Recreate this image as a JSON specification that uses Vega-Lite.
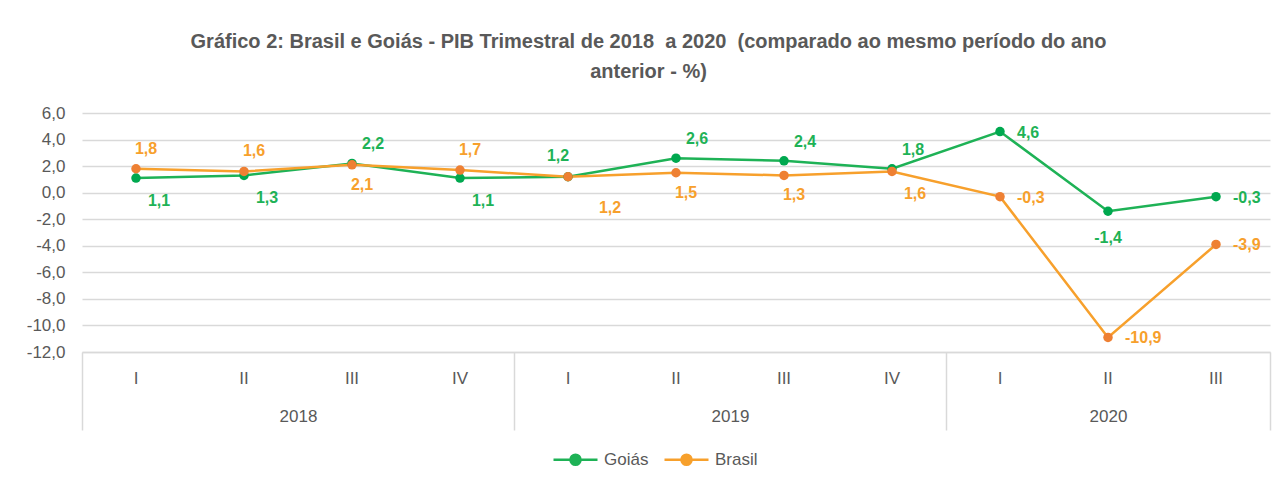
{
  "$schema": "https://vega.github.io/schema/vega-lite/v6.json",
  "autosize": {"type": "none"},
  "padding": {"left": 82, "top": 113, "right": 11, "bottom": 132},
  "width": 1188,
  "height": 239,
  "background": "white",
  "data": {"values": [
    {"per": "2018-I", "serie": "Goiás", "valor": 1.1, "pos": "br"},
    {"per": "2018-II", "serie": "Goiás", "valor": 1.3, "pos": "br"},
    {"per": "2018-III", "serie": "Goiás", "valor": 2.2, "pos": "ar"},
    {"per": "2018-IV", "serie": "Goiás", "valor": 1.1, "pos": "br"},
    {"per": "2019-I", "serie": "Goiás", "valor": 1.2, "pos": "al"},
    {"per": "2019-II", "serie": "Goiás", "valor": 2.6, "pos": "ar"},
    {"per": "2019-III", "serie": "Goiás", "valor": 2.4, "pos": "ar"},
    {"per": "2019-IV", "serie": "Goiás", "valor": 1.8, "pos": "ar"},
    {"per": "2020-I", "serie": "Goiás", "valor": 4.6, "pos": "r"},
    {"per": "2020-II", "serie": "Goiás", "valor": -1.4, "pos": "u"},
    {"per": "2020-III", "serie": "Goiás", "valor": -0.3, "pos": "r"},
    {"per": "2018-I", "serie": "Brasil", "valor": 1.8, "pos": "a"},
    {"per": "2018-II", "serie": "Brasil", "valor": 1.6, "pos": "a"},
    {"per": "2018-III", "serie": "Brasil", "valor": 2.1, "pos": "b"},
    {"per": "2018-IV", "serie": "Brasil", "valor": 1.7, "pos": "a"},
    {"per": "2019-I", "serie": "Brasil", "valor": 1.2, "pos": "f"},
    {"per": "2019-II", "serie": "Brasil", "valor": 1.5, "pos": "b"},
    {"per": "2019-III", "serie": "Brasil", "valor": 1.3, "pos": "b"},
    {"per": "2019-IV", "serie": "Brasil", "valor": 1.6, "pos": "br"},
    {"per": "2020-I", "serie": "Brasil", "valor": -0.3, "pos": "r"},
    {"per": "2020-II", "serie": "Brasil", "valor": -10.9, "pos": "r"},
    {"per": "2020-III", "serie": "Brasil", "valor": -3.9, "pos": "r"}
  ]},
  "title": {
    "text": ["Gráfico 2: Brasil e Goiás - PIB Trimestral de 2018\u00a0 a 2020\u00a0 (comparado ao mesmo período do ano", "anterior - %)"],
    "font": "Liberation Sans",
    "fontSize": 20,
    "fontWeight": "bold",
    "color": "#595959",
    "lineHeight": 30,
    "offset": 22,
    "anchor": "middle",
    "frame": "bounds"
  },
  "encoding": {
    "y": {
      "field": "valor",
      "type": "quantitative",
      "title": null,
      "scale": {"domain": [-12, 6], "nice": false},
      "axis": {
        "values": [-12, -10, -8, -6, -4, -2, 0, 2, 4, 6],
        "format": ".1f",
        "labelColor": "#595959",
        "labelFontSize": 17,
        "labelFont": "Liberation Sans",
        "labelPadding": 17,
        "domain": false,
        "ticks": false,
        "gridColor": "#d9d9d9",
        "gridWidth": 1.5
      }
    }
  },
  "layer": [
    {
      "encoding": {
        "x": {
          "field": "per",
          "type": "ordinal",
          "title": null,
          "scale": {"type": "band", "paddingInner": 0, "paddingOuter": 0},
          "axis": {
            "orient": "bottom",
            "labelExpr": "split(datum.value, '-')[1]",
            "labelAngle": 0,
            "labelColor": "#595959",
            "labelFontSize": 17,
            "labelFont": "Liberation Sans",
            "labelPadding": 18,
            "domainColor": "#d9d9d9",
            "domainWidth": 1.5,
            "ticks": false,
            "grid": false
          }
        }
      },
      "layer": [
        {
          "mark": {"type": "line", "strokeWidth": 2.5},
          "encoding": {
            "color": {
              "field": "serie",
              "type": "nominal",
              "sort": ["Goiás", "Brasil"],
              "scale": {"domain": ["Goiás", "Brasil"], "range": ["#1EB256", "#F7A02C"]},
              "legend": {
                "title": null,
                "orient": "none",
                "legendX": 470,
                "legendY": 323,
                "direction": "horizontal",
                "labelColor": "#595959",
                "labelFontSize": 17,
                "labelFont": "Liberation Sans",
                "labelOffset": 5,
                "symbolType": "M-1,0L1,0M0.23,0A0.23,0.23,0,1,1,-0.23,0A0.23,0.23,0,1,1,0.23,0",
                "symbolSize": 1936,
                "symbolStrokeWidth": 2.5,
                "columnPadding": 10,
                "encode": {"symbols": {"update": {"fill": {"scale": "color", "field": "value"}, "stroke": {"scale": "color", "field": "value"}}}}
              }
            }
          }
        },
        {
          "mark": {"type": "point", "filled": true, "size": 90, "opacity": 1},
          "encoding": {
            "fill": {
              "field": "serie",
              "type": "nominal",
              "scale": {"domain": ["Goiás", "Brasil"], "range": ["#00A84F", "#EE8033"]},
              "legend": null
            }
          }
        }
      ]
    },
    {
      "encoding": {
        "x": {
          "field": "per",
          "type": "ordinal",
          "title": null,
          "axis": {
            "orient": "bottom",
            "tickBand": "extent",
            "labelExpr": "datum.value == '2018-II' || datum.value == '2019-II' || datum.value == '2020-II' ? split(datum.value, '-')[0] : ''",
            "labelOffset": {"condition": {"test": "datum.value == '2020-II'", "value": 0}, "value": 54},
            "labelAngle": 0,
            "labelColor": "#595959",
            "labelFontSize": 17,
            "labelFont": "Liberation Sans",
            "labelPadding": -22,
            "domain": false,
            "tickSize": 78,
            "tickWidth": 1.5,
            "tickColor": {"condition": {"test": "datum.value == '2018-IV' || datum.value == '2019-IV' || datum.value == '2020-III' || datum.index < 0", "value": "#d9d9d9"}, "value": "transparent"},
            "grid": false
          }
        },
        "color": {"field": "serie", "type": "nominal"},
        "text": {"field": "valor", "type": "quantitative", "format": ".1f"}
      },
      "layer": [
        {
          "transform": [{"filter": "datum.pos == 'a'"}],
          "mark": {"type": "text", "dx": 10, "dy": -20}
        },
        {
          "transform": [{"filter": "datum.pos == 'ar'"}],
          "mark": {"type": "text", "dx": 21, "dy": -19}
        },
        {
          "transform": [{"filter": "datum.pos == 'al'"}],
          "mark": {"type": "text", "dx": -10, "dy": -21}
        },
        {
          "transform": [{"filter": "datum.pos == 'b'"}],
          "mark": {"type": "text", "dx": 10, "dy": 20}
        },
        {
          "transform": [{"filter": "datum.pos == 'br'"}],
          "mark": {"type": "text", "dx": 23, "dy": 23}
        },
        {
          "transform": [{"filter": "datum.pos == 'r'"}],
          "mark": {"type": "text", "align": "left", "dx": 17, "dy": 1}
        },
        {
          "transform": [{"filter": "datum.pos == 'u'"}],
          "mark": {"type": "text", "dx": 0, "dy": 27}
        },
        {
          "transform": [{"filter": "datum.pos == 'f'"}],
          "mark": {"type": "text", "dx": 42, "dy": 31}
        }
      ]
    }
  ],
  "resolve": {"axis": {"x": "independent"}},
  "config": {
    "view": {"stroke": null},
    "locale": {"number": {"decimal": ",", "thousands": ".", "grouping": [3], "currency": ["R$", ""], "minus": "-"}},
    "text": {"baseline": "middle", "fontSize": 16, "fontWeight": "bold", "font": "Liberation Sans"}
  }
}
